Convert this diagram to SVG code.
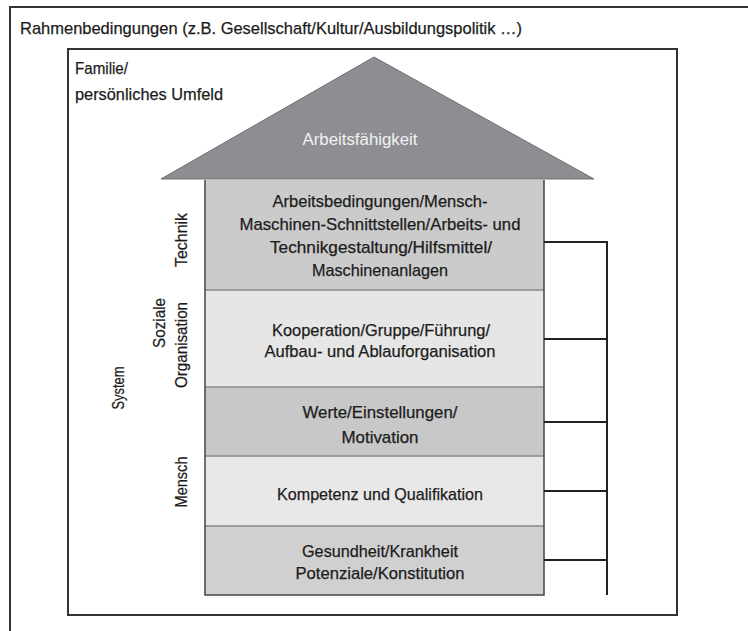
<svg xmlns="http://www.w3.org/2000/svg" width="748" height="631" viewBox="0 0 748 631">
  <style>
    .t { font-family: "Liberation Sans Narrow", "Liberation Sans", Arial, sans-serif; font-size: 17px; fill: #1c1c1c; stroke: #1c1c1c; stroke-width: 0.25; }
    .c { text-anchor: middle; }
    .frame { fill: none; stroke: #333; stroke-width: 2; }
    .div { stroke: #8a8a8a; stroke-width: 1.5; }
    .link { fill: none; stroke: #222; stroke-width: 2; }
  </style>
  <rect width="748" height="631" fill="#fff"/>

  <!-- outer frame: general conditions -->
  <g id="rahmen">
    <path class="frame" d="M 10 640 L 10 7 L 760 7"/>
    <text class="t" x="20" y="34" textLength="502" lengthAdjust="spacingAndGlyphs">Rahmenbedingungen (z.B. Gesellschaft/Kultur/Ausbildungspolitik …)</text>
  </g>

  <!-- inner frame: family / personal environment -->
  <g id="familie">
    <rect class="frame" x="68" y="49" width="609" height="566"/>
    <text class="t" x="75" y="74" textLength="53" lengthAdjust="spacingAndGlyphs">Familie/</text>
    <text class="t" x="75" y="100" textLength="148" lengthAdjust="spacingAndGlyphs">persönliches Umfeld</text>
  </g>

  <!-- roof -->
  <g id="dach">
    <polygon points="374,57 161,179 594,179" fill="#8e8e92" stroke="#6e6e72" stroke-width="1"/>
    <text class="t c" x="360" y="145" style="fill:#f2f2f2;stroke:none;font-size:16px" textLength="115" lengthAdjust="spacingAndGlyphs">Arbeitsfähigkeit</text>
  </g>

  <!-- storeys of the house -->
  <g id="technik-ebene">
    <rect x="205" y="180" width="339" height="110" fill="#cbcbcb"/>
    <text class="t c" x="380" y="207" textLength="215" lengthAdjust="spacingAndGlyphs">Arbeitsbedingungen/Mensch-</text>
    <text class="t c" x="380" y="230" textLength="281" lengthAdjust="spacingAndGlyphs">Maschinen-Schnittstellen/Arbeits- und</text>
    <text class="t c" x="381" y="253" textLength="222" lengthAdjust="spacingAndGlyphs">Technikgestaltung/Hilfsmittel/</text>
    <text class="t c" x="380" y="276" textLength="136" lengthAdjust="spacingAndGlyphs">Maschinenanlagen</text>
  </g>
  <g id="organisation-ebene">
    <rect x="205" y="290" width="339" height="97" fill="#e6e6e6"/>
    <text class="t c" x="381" y="336" textLength="218" lengthAdjust="spacingAndGlyphs">Kooperation/Gruppe/Führung/</text>
    <text class="t c" x="380" y="357" textLength="231" lengthAdjust="spacingAndGlyphs">Aufbau- und Ablauforganisation</text>
  </g>
  <g id="werte-ebene">
    <rect x="205" y="387" width="339" height="69" fill="#c8c8c8"/>
    <text class="t c" x="380" y="418" textLength="155" lengthAdjust="spacingAndGlyphs">Werte/Einstellungen/</text>
    <text class="t c" x="380" y="443" textLength="77" lengthAdjust="spacingAndGlyphs">Motivation</text>
  </g>
  <g id="kompetenz-ebene">
    <rect x="205" y="456" width="339" height="70" fill="#e8e8e8"/>
    <text class="t c" x="380" y="500" textLength="206" lengthAdjust="spacingAndGlyphs">Kompetenz und Qualifikation</text>
  </g>
  <g id="gesundheit-ebene">
    <rect x="205" y="526" width="339" height="69" fill="#d0d0d0"/>
    <text class="t c" x="380" y="557" textLength="156" lengthAdjust="spacingAndGlyphs">Gesundheit/Krankheit</text>
    <text class="t c" x="380" y="579" textLength="169" lengthAdjust="spacingAndGlyphs">Potenziale/Konstitution</text>
  </g>

  <!-- house walls and storey dividers -->
  <g id="waende">
    <line class="div" x1="205" y1="290" x2="544" y2="290"/>
    <line class="div" x1="205" y1="387" x2="544" y2="387"/>
    <line class="div" x1="205" y1="456" x2="544" y2="456"/>
    <line class="div" x1="205" y1="526" x2="544" y2="526"/>
    <path d="M 205 180 L 205 595 L 544 595 L 544 180" fill="none" stroke="#444" stroke-width="1.5"/>
  </g>

  <!-- side labels -->
  <g id="seitenlabels">
    <text class="t c" transform="translate(187,240) rotate(-90)" textLength="54" lengthAdjust="spacingAndGlyphs">Technik</text>
    <text class="t c" transform="translate(165,323) rotate(-90)" textLength="50" lengthAdjust="spacingAndGlyphs">Soziale</text>
    <text class="t c" transform="translate(187,345) rotate(-90)" textLength="86" lengthAdjust="spacingAndGlyphs">Organisation</text>
    <text class="t c" transform="translate(124,388) rotate(-90)" textLength="43" lengthAdjust="spacingAndGlyphs">System</text>
    <text class="t c" transform="translate(187,482) rotate(-90)" textLength="51" lengthAdjust="spacingAndGlyphs">Mensch</text>
  </g>

  <!-- connectors: bracket joining the storeys -->
  <g id="verbinder">
    <path class="link" d="M 544 242 L 607 242 L 607 595"/>
    <line class="link" x1="544" y1="339" x2="607" y2="339"/>
    <line class="link" x1="544" y1="422" x2="607" y2="422"/>
    <line class="link" x1="544" y1="491" x2="607" y2="491"/>
    <line class="link" x1="544" y1="560" x2="607" y2="560"/>
  </g>
</svg>
